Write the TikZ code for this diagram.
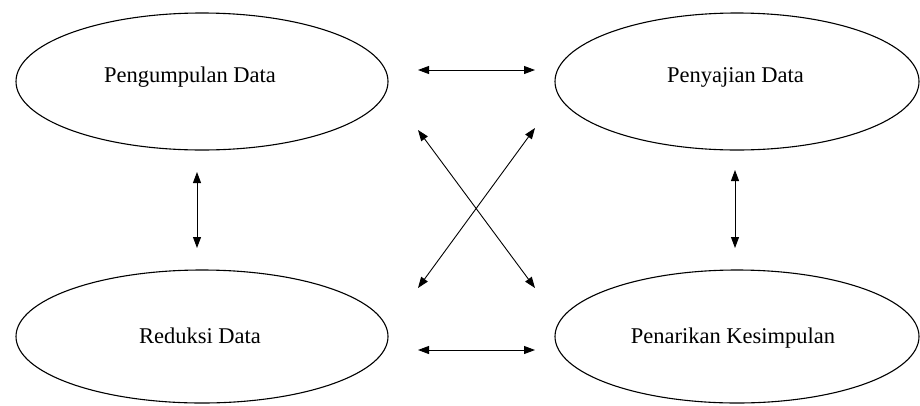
\documentclass[tikz,border=0pt]{standalone}
\usepackage{fontspec}
\setmainfont{Liberation Serif}
\usetikzlibrary{arrows.meta,shapes.geometric}

\begin{document}
\begin{tikzpicture}[x=1pt,y=-1pt,
        phase/.style={draw,ellipse,line width=1.1pt,minimum width=372pt,minimum height=137pt,inner sep=0pt},
        lbl/.style={anchor=base,font=\fontsize{22.5}{27}\selectfont},
        link/.style={line width=0.9pt,{Triangle[length=11pt,width=8pt]}-{Triangle[length=11pt,width=8pt]}}]
        \useasboundingbox (0,0) rectangle (920,405);

        % the four stages
        \node[phase] (kumpul) at (202,81.5) {};
        \node[phase,minimum width=364pt] (saji) at (737,81.5) {};
        \node[phase,minimum height=133pt] (reduksi) at (202,336.5) {};
        \node[phase,minimum width=364pt,minimum height=133pt] (tarik) at (737,336.5) {};

        \node[lbl] (kumpultxt) at (190,82) {Pengumpulan Data};
        \node[lbl] (sajitxt) at (735.5,82) {Penyajian Data};
        \node[lbl] (reduksitxt) at (200,343) {Reduksi Data};
        \node[lbl] (tariktxt) at (733,343) {Penarikan Kesimpulan};

        % arrow ends
        \coordinate (ka) at (418,70);
        \coordinate (sa) at (535,70);
        \coordinate (rb) at (418,350);
        \coordinate (tb) at (535,350);
        \coordinate (kb) at (197,172);
        \coordinate (rt) at (197,248);
        \coordinate (sb) at (735,170);
        \coordinate (tt) at (735,248);
        \coordinate (kd) at (418,130);
        \coordinate (td) at (535,288);
        \coordinate (sd) at (535,128);
        \coordinate (rd) at (418,288);

        \draw[link] (ka) -- (sa);
        \draw[link] (rb) -- (tb);
        \draw[link] (kb) -- (rt);
        \draw[link] (sb) -- (tt);
        \draw[link] (kd) -- (td);
        \draw[link] (sd) -- (rd);
\end{tikzpicture}
\end{document}
